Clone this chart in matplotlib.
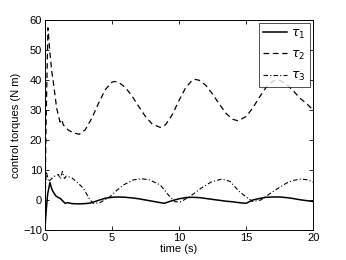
import matplotlib
matplotlib.use("Agg")
import matplotlib.pyplot as plt

plt.rcParams["font.family"] = ["Liberation Sans", "DejaVu Sans"]
plt.rcParams["mathtext.fontset"] = "dejavusans"

# tau_1 (solid)
t1 = [0.0, 0.1, 0.2, 0.37, 0.5, 0.6, 0.8, 1.0, 1.12, 1.3, 1.5, 1.7, 2.0, 2.5, 3.0, 3.4,
      4.0, 4.5, 5.0, 5.5, 6.0, 6.5, 7.0, 7.5, 8.0, 8.5, 8.9, 9.5, 10.0, 10.5, 11.0,
      11.5, 12.0, 12.5, 13.0, 13.5, 14.0, 14.5, 15.0, 15.5, 16.0, 16.5, 17.0, 17.5,
      18.0, 18.5, 19.0, 19.5, 20.0]
tau1 = [-9.3, -3.0, 2.0, 5.8, 3.8, 2.8, 1.4, 0.8, 0.6, -0.2, -1.1, -0.9, -1.2, -1.3, -1.2, -1.0,
        -0.1, 0.6, 0.9, 1.0, 0.9, 0.7, 0.4, 0.0, -0.4, -0.8, -1.1, -0.2, 0.4, 0.8, 0.9,
        0.8, 0.5, 0.2, -0.1, -0.4, -0.6, -0.9, -1.1, 0.0, 0.5, 0.9, 1.0, 1.0,
        0.8, 0.5, 0.1, -0.2, -0.5]

# tau_2 (dashed)
t2 = [0.0, 0.1, 0.22, 0.35, 0.5, 0.62, 0.87, 1.12, 1.25, 1.37, 1.74, 2.1, 2.56, 3.0, 3.5,
      4.0, 4.5, 5.0, 5.2, 5.5, 6.0, 6.5, 7.0, 7.5, 8.0, 8.6, 9.0, 9.5, 10.0, 10.5,
      11.0, 11.2, 11.5, 12.0, 12.5, 13.0, 13.5, 14.0, 14.4, 15.0, 15.5, 16.0, 16.5,
      17.0, 17.3, 17.5, 18.0, 18.5, 19.0, 19.5, 20.0]
tau2 = [0.0, 30.0, 57.4, 50.0, 43.0, 39.4, 30.6, 26.0, 26.8, 25.0, 23.3, 22.4, 21.9, 23.4, 27.3,
        32.3, 36.8, 39.3, 39.5, 39.2, 37.5, 34.6, 31.1, 27.8, 25.3, 24.2, 25.1, 28.5, 33.2, 37.5,
        40.0, 40.2, 39.9, 38.2, 35.3, 32.0, 28.9, 26.9, 26.4, 27.8, 30.7, 34.3, 37.6,
        39.6, 40.0, 39.9, 38.6, 36.5, 34.0, 32.2, 30.0]

# tau_3 (dash-dot)
t3 = [0.0, 0.1, 0.27, 0.65, 1.0, 1.15, 1.3, 1.45, 1.6, 2.0, 2.5, 2.86, 3.36, 3.6, 4.1,
      4.85, 5.3, 5.85, 6.6, 7.2, 7.8, 8.6, 9.2, 9.7, 10.1, 10.8, 11.3, 11.8, 12.4,
      13.2, 13.8, 14.5, 15.0, 15.5, 16.1, 17.0, 18.0, 18.5, 19.1, 19.6, 20.0]
tau3 = [0.0, 9.5, 6.1, 7.8, 8.5, 7.0, 9.5, 7.2, 8.0, 7.4, 5.5, 3.9, 0.0, -1.1, -0.9,
        1.1, 3.0, 5.0, 6.7, 7.1, 6.7, 5.0, 1.7, -0.6, -0.6, 1.1, 2.8, 4.4, 6.0,
        7.0, 6.2, 2.8, 1.0, -0.5, 0.0, 2.8, 5.6, 6.5, 7.0, 6.7, 5.9]

xticks = [0, 5, 10, 15, 20]
yticks = [-10, 0, 10, 20, 30, 40, 50, 60]

fig = plt.figure(figsize=(3.46, 2.6), dpi=100)
ax = fig.add_axes([0.130, 0.1154, 0.775, 0.8077])

ax.plot(t1, tau1, color="black", lw=1.1, label=r"$\tau_1$")
ax.plot(t2, tau2, color="black", lw=0.9, dashes=(4.5, 3), label=r"$\tau_2$")
ax.plot(t3, tau3, color="black", lw=0.8, dashes=(4, 2, 1, 2), label=r"$\tau_3$")

ax.set_xlim(0, 20)
ax.set_ylim(-10, 60)
ax.set_xticks(xticks)
ax.set_yticks(yticks)
ax.tick_params(direction="in", top=True, right=True, labelsize=8, length=3, width=0.6, pad=2)
for s in ax.spines.values():
    s.set_linewidth(0.7)

ax.set_xlabel("time (s)", fontsize=8, labelpad=1)
ax.set_ylabel("control torques (N m)", fontsize=8, labelpad=2)

leg = ax.legend(loc="upper right", fontsize=9, frameon=True, fancybox=False,
                edgecolor="black", handlelength=1.9, borderaxespad=0.25,
                labelspacing=0.65, handletextpad=0.35, borderpad=0.35)
leg.get_frame().set_linewidth(0.6)

fig.savefig("out.png", dpi=100)
